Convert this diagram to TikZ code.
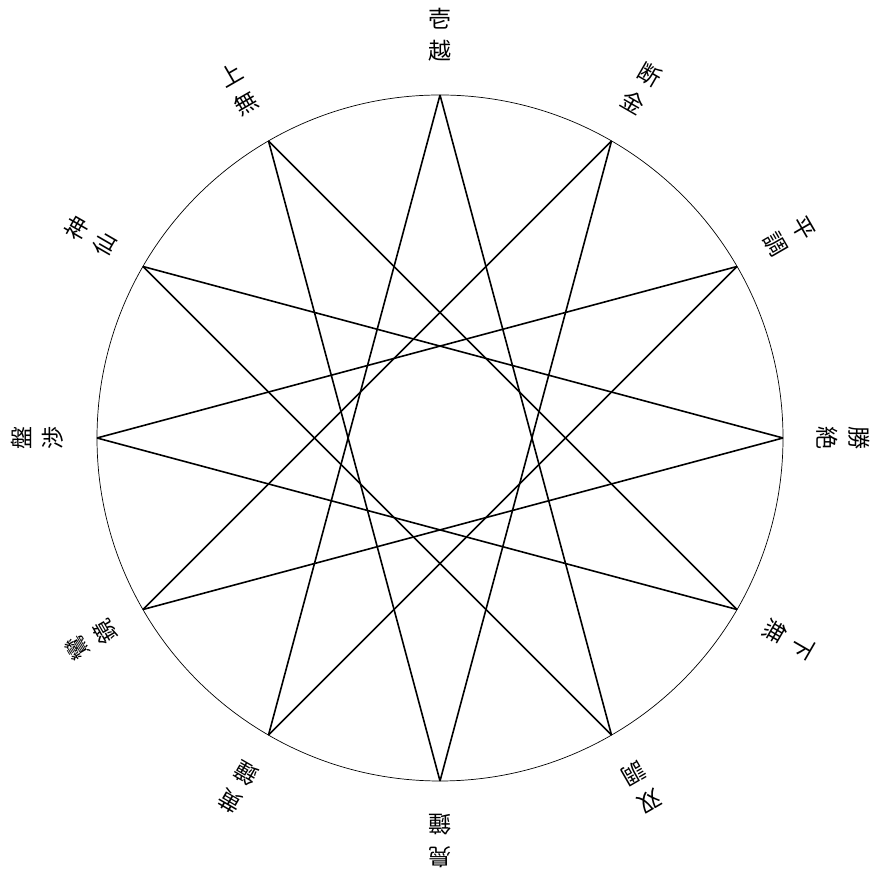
\documentclass[tikz,border=0pt]{standalone}
\usepackage{fontspec}
\usetikzlibrary{calc}
\newfontfamily\cjk{Noto Sans CJK JP}
\begin{document}
\begin{tikzpicture}[x=1pt,y=1pt,
  ring/.style={draw=black,line width=0.7pt},
  starline/.style={draw=black,line width=1.6pt,line join=miter},
  lbl/.style={font=\cjk\fontsize{23}{28}\selectfont,inner sep=0pt}]
\useasboundingbox (0,0) rectangle (875,882);
\coordinate (c) at (440,444);
\draw[ring] (c) circle[radius=343];
\foreach \i in {0,...,11}{
  \coordinate (p\i) at ($(c)+({90-30*\i}:343)$);
}
\foreach \i in {0,...,11}{
  \pgfmathtruncatemacro{\j}{mod(\i+5,12)}
  \draw[starline] (p\i) -- (p\j);
}
\foreach \a/\b [count=\k from 0] in {壱/越,断/金,平/調,勝/絶,下/無,双/調,鳧/鐘,黄/鐘,鸞/鏡,盤/渉,神/仙,上/無}{
  \pgfmathsetmacro{\ang}{90-30*\k}
  \node[lbl,rotate=\ang-90] (la\k) at ($(c)+(\ang:419)$) {\a};
  \node[lbl,rotate=\ang-90] (lb\k) at ($(c)+(\ang:387)$) {\b};
}
\end{tikzpicture}
\end{document}
